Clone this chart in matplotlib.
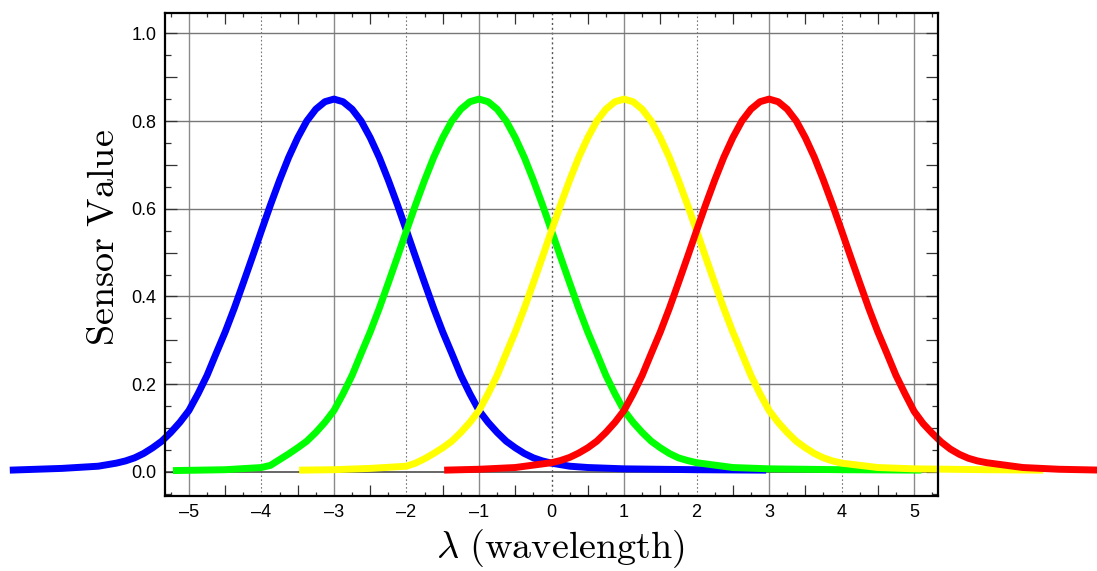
import matplotlib
matplotlib.use("Agg")
import matplotlib.pyplot as plt
from matplotlib.ticker import MultipleLocator, FuncFormatter

plt.rcParams['font.family'] = ['Liberation Sans', 'DejaVu Sans']
plt.rcParams['mathtext.fontset'] = 'cm'

# ---- data ----
blue_x = [-7.47, -6.75, -6.25,
          -6.0, -5.875, -5.75, -5.625, -5.5, -5.375, -5.25, -5.125, -5.0, -4.875, -4.75, -4.625,
          -4.5, -4.375, -4.25, -4.125, -4.0, -3.875, -3.75, -3.625, -3.5, -3.375, -3.25, -3.125,
          -3.0, -2.875, -2.75, -2.625, -2.5, -2.375, -2.25, -2.125, -2.0, -1.875, -1.75, -1.625,
          -1.5, -1.375, -1.25, -1.125, -1.0, -0.875, -0.75, -0.625, -0.5, -0.375, -0.25, -0.125,
          0.0, 0.25, 0.5, 1.0, 1.5, 2.0, 2.96]
blue_y = [0.004, 0.008, 0.013,
          0.020, 0.025, 0.032, 0.042, 0.055, 0.070, 0.090, 0.113, 0.140, 0.178, 0.220, 0.270,
          0.319, 0.373, 0.431, 0.490, 0.550, 0.609, 0.665, 0.717, 0.762, 0.800, 0.827, 0.844,
          0.850, 0.844, 0.827, 0.800, 0.762, 0.717, 0.665, 0.609, 0.550, 0.490, 0.431, 0.373,
          0.319, 0.270, 0.220, 0.178, 0.140, 0.113, 0.090, 0.070, 0.055, 0.042, 0.032, 0.025,
          0.020, 0.013, 0.010, 0.007, 0.006, 0.005, 0.004]

green_x = [-5.22, -4.5,
           -4.0, -3.875, -3.75, -3.625, -3.5, -3.375, -3.25, -3.125, -3.0, -2.875, -2.75, -2.625,
           -2.5, -2.375, -2.25, -2.125, -2.0, -1.875, -1.75, -1.625, -1.5, -1.375, -1.25, -1.125,
           -1.0, -0.875, -0.75, -0.625, -0.5, -0.375, -0.25, -0.125, 0.0, 0.125, 0.25, 0.375,
           0.5, 0.625, 0.75, 0.875, 1.0, 1.125, 1.25, 1.375, 1.5, 1.625, 1.75, 1.875,
           2.0, 2.5, 3.0, 4.0, 5.1]
green_y = [0.003, 0.005,
           0.010, 0.015, 0.028, 0.041, 0.055, 0.070, 0.090, 0.113, 0.140, 0.178, 0.220, 0.270,
           0.319, 0.373, 0.431, 0.490, 0.550, 0.609, 0.665, 0.717, 0.762, 0.800, 0.827, 0.844,
           0.850, 0.844, 0.827, 0.800, 0.762, 0.717, 0.665, 0.609, 0.550, 0.490, 0.431, 0.373,
           0.319, 0.270, 0.220, 0.178, 0.140, 0.113, 0.090, 0.070, 0.055, 0.042, 0.032, 0.026,
           0.021, 0.010, 0.007, 0.005, 0.004]

yellow_x = [-3.48, -3.0, -2.5,
            -2.0, -1.875, -1.75, -1.625, -1.5, -1.375, -1.25, -1.125, -1.0, -0.875, -0.75, -0.625,
            -0.5, -0.375, -0.25, -0.125, 0.0, 0.125, 0.25, 0.375, 0.5, 0.625, 0.75, 0.875,
            1.0, 1.125, 1.25, 1.375, 1.5, 1.625, 1.75, 1.875, 2.0, 2.125, 2.25, 2.375,
            2.5, 2.625, 2.75, 2.875, 3.0, 3.125, 3.25, 3.375, 3.5, 3.625, 3.75, 3.875,
            4.0, 4.5, 5.0, 6.0, 6.78]
yellow_y = [0.004, 0.005, 0.008,
            0.013, 0.020, 0.030, 0.042, 0.055, 0.070, 0.090, 0.113, 0.140, 0.178, 0.220, 0.270,
            0.319, 0.373, 0.431, 0.490, 0.550, 0.609, 0.665, 0.717, 0.762, 0.800, 0.827, 0.844,
            0.850, 0.844, 0.827, 0.800, 0.762, 0.717, 0.665, 0.609, 0.550, 0.490, 0.431, 0.373,
            0.319, 0.270, 0.220, 0.178, 0.140, 0.113, 0.090, 0.070, 0.055, 0.042, 0.032, 0.025,
            0.020, 0.010, 0.007, 0.005, 0.004]

red_x = [-1.48, -1.0, -0.5,
         0.0, 0.125, 0.25, 0.375, 0.5, 0.625, 0.75, 0.875, 1.0, 1.125, 1.25, 1.375,
         1.5, 1.625, 1.75, 1.875, 2.0, 2.125, 2.25, 2.375, 2.5, 2.625, 2.75, 2.875,
         3.0, 3.125, 3.25, 3.375, 3.5, 3.625, 3.75, 3.875, 4.0, 4.125, 4.25, 4.375,
         4.5, 4.625, 4.75, 4.875, 5.0, 5.125, 5.25, 5.375, 5.5, 5.625, 5.75, 5.875,
         6.0, 6.5, 7.0, 7.6]
red_y = [0.004, 0.006, 0.010,
         0.021, 0.026, 0.033, 0.043, 0.055, 0.070, 0.090, 0.113, 0.140, 0.178, 0.220, 0.270,
         0.319, 0.373, 0.431, 0.490, 0.550, 0.609, 0.665, 0.717, 0.762, 0.800, 0.827, 0.844,
         0.850, 0.844, 0.827, 0.800, 0.762, 0.717, 0.665, 0.609, 0.550, 0.490, 0.431, 0.373,
         0.319, 0.270, 0.220, 0.178, 0.138, 0.110, 0.088, 0.068, 0.052, 0.040, 0.031, 0.025,
         0.021, 0.010, 0.006, 0.004]

x_solid_grid = [-5, -3, -1, 1, 3, 5]
x_dotted_grid = [-4, -2, 2, 4]
x_zero_grid = [0]
y_grid = [0.2, 0.4, 0.6, 0.8, 1.0]
y_zero_grid = [0.0]

# ---- figure ----
fig = plt.figure(figsize=(10.97, 5.71), dpi=100)
ax = fig.add_axes([0.1504, 0.1313, 0.7047, 0.8465])
ax.set_xlim(-5.33, 5.33)
ax.set_ylim(-0.055, 1.047)

for gx in x_solid_grid:
    ax.axvline(gx, color='#8a8a8a', lw=1.0, zorder=1)
for gx in x_dotted_grid:
    ax.axvline(gx, color='#777777', lw=0.8, ls=(0, (1.5, 2)), zorder=1)
for gx in x_zero_grid:
    ax.axvline(gx, color='#555555', lw=1.0, ls=(0, (1.5, 2)), zorder=1)
for gy in y_grid:
    ax.axhline(gy, color='#777777', lw=1.0, zorder=1)
for gy in y_zero_grid:
    ax.axhline(gy, color='#5a5a5a', lw=1.3, zorder=1)

for xs, ys, c in [(blue_x, blue_y, '#0000ff'), (green_x, green_y, '#00ff00'),
                  (yellow_x, yellow_y, '#ffff00'), (red_x, red_y, '#ff0000')]:
    ax.plot(xs, ys, color=c, lw=5.0, solid_capstyle='butt', solid_joinstyle='round',
            clip_on=False, zorder=3)

# ticks
ax.xaxis.set_major_locator(MultipleLocator(0.5))
ax.xaxis.set_minor_locator(MultipleLocator(0.25))
ax.yaxis.set_major_locator(MultipleLocator(0.1))
ax.yaxis.set_minor_locator(MultipleLocator(0.05))


def xfmt(v, pos):
    if abs(v - round(v)) < 1e-6:
        r = int(round(v))
        return ('\u2013%d' % -r) if r < 0 else '%d' % r
    return ''


def yfmt(v, pos):
    k = round(v * 10)
    if abs(v * 10 - k) < 1e-6 and k % 2 == 0 and v >= -1e-9:
        return '%.1f' % v
    return ''


ax.xaxis.set_major_formatter(FuncFormatter(xfmt))
ax.yaxis.set_major_formatter(FuncFormatter(yfmt))

ax.tick_params(axis='x', which='major', direction='in', length=8, width=0.9, color='#333333',
               top=True, bottom=True, labelsize=13, pad=6)
ax.tick_params(axis='x', which='minor', direction='in', length=3, width=0.9, color='#333333',
               top=True, bottom=True)
ax.tick_params(axis='y', which='major', direction='in', length=8.5, width=0.9, color='#333333',
               left=True, right=True, labelsize=13, pad=6)
ax.tick_params(axis='y', which='minor', direction='in', length=4.3, width=0.9, color='#333333',
               left=True, right=True)

# hide dark ticks on integer x positions (grid lines there)
fig.canvas.draw()
for t in ax.xaxis.get_major_ticks():
    v = t.get_loc()
    if abs(v - round(v)) < 1e-6:
        t.tick1line.set_visible(False)
        t.tick2line.set_visible(False)

for s in ax.spines.values():
    s.set_linewidth(1.6)
    s.set_color('black')
    s.set_zorder(4)

ax.set_xlabel(r'$\lambda\ \mathrm{(wavelength)}$', fontsize=27.5)
ax.set_ylabel(r'$\mathrm{Sensor\ Value}$', fontsize=27.5)
ax.xaxis.set_label_coords(0.512, -0.064)
ax.yaxis.set_label_coords(-0.056, 0.534)

fig.savefig('out.png', dpi=100)
